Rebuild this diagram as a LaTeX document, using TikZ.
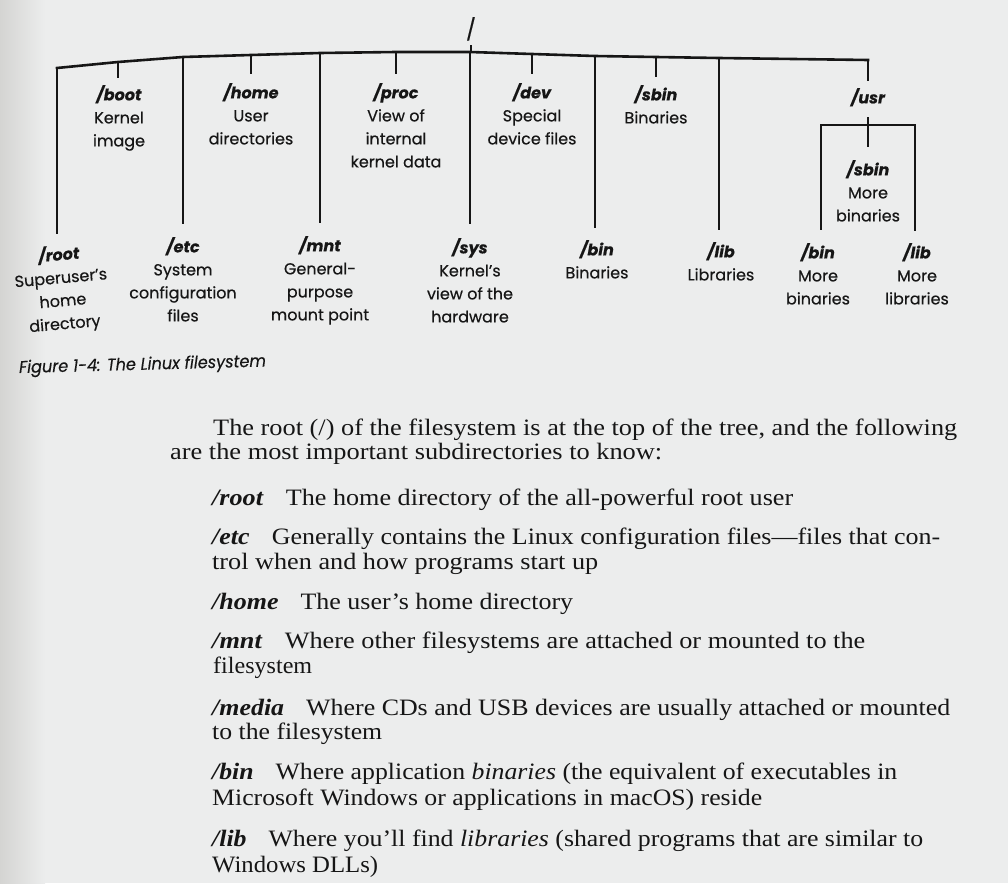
\documentclass[tikz,border=0pt]{standalone}
\usepackage{fontspec}
\usepackage{graphicx}
\setmainfont{Liberation Serif}
\newfontfamily\geo{Poppins}[FakeBold=0.4]
\usetikzlibrary{calc}

\definecolor{paper}{RGB}{236,237,237}
\definecolor{paperdark}{RGB}{212,212,210}
\definecolor{ink}{RGB}{22,22,22}

% directory names in the tree: bold oblique
\newcommand\dname[1]{{\bfseries\itshape #1}}
% one line of body text stretched to a given width
\newcommand\bodyline[5]{\node[body] (#1) at (#2,#3) {\resizebox{#4pt}{\height}{#5}};}

\tikzset{
  branch/.style={draw=ink, line width=2.6pt, line cap=rect},
  lbl/.style={inner sep=0pt, align=center, anchor=north, text=ink,
              font=\geo\fontsize{16pt}{23pt}\selectfont},
  rootlbl/.style={inner sep=0pt, anchor=north, text=ink,
              font=\geo\fontsize{21pt}{24pt}\selectfont},
  caption/.style={inner sep=0pt, anchor=base west, text=ink,
              font=\geo\itshape\fontsize{17pt}{20pt}\selectfont},
  body/.style={inner sep=0pt, anchor=base west, text=ink,
              font=\fontsize{23.5pt}{27pt}\selectfont},
}

\begin{document}
\begin{tikzpicture}[x=1pt,y=-1pt]
  % page
  \fill[paper] (0,0) rectangle (1008,883);
  \shade[left color=paperdark, right color=paper] (0,0) rectangle (45,883);
  \useasboundingbox (0,0) rectangle (1008,883);

  % ---- tree labels ----
  \node[rootlbl] (root) at (471,17) {/};

  \node[lbl] (boot) at (119,85) {\dname{/boot}\\Kernel\\image};
  \node[lbl] (home) at (251,83) {\dname{/home}\\User\\directories};
  \node[lbl] (proc) at (396,83) {\dname{/proc}\\View of\\internal\\kernel data};
  \node[lbl] (dev)  at (532,83) {\dname{/dev}\\Special\\device files};
  \node[lbl] (sbin) at (656,85) {\dname{/sbin}\\Binaries};
  \node[lbl] (usr)  at (868,88) {\dname{/usr}};
  \node[lbl] (usbin) at (868,160) {\dname{/sbin}\\More\\binaries};

  \node[lbl, rotate=5] (rootdir) at (58,245) {\dname{/root}\\Superuser’s\\home\\directory};
  \node[lbl] (etc)  at (183,237) {\dname{/etc}\\System\\configuration\\files};
  \node[lbl] (mnt)  at (320,236) {\dname{/mnt}\\General-\\purpose\\mount point};
  \node[lbl] (sys)  at (470,238) {\dname{/sys}\\Kernel’s\\view of the\\hardware};
  \node[lbl] (bin)  at (597,240) {\dname{/bin}\\Binaries};
  \node[lbl] (lib)  at (721,242) {\dname{/lib}\\Libraries};
  \node[lbl] (ubin) at (818,243) {\dname{/bin}\\More\\binaries};
  \node[lbl] (ulib) at (917,243) {\dname{/lib}\\More\\libraries};

  % ---- the main bar, slightly bowed ----
  \coordinate (bL)    at (57,68);
  \coordinate (bBoot) at (118,62);
  \coordinate (bEtc)  at (183,57);
  \coordinate (bHome) at (251,55);
  \coordinate (bMnt)  at (320,53);
  \coordinate (bProc) at (396,52);
  \coordinate (bSys)  at (470,52);
  \coordinate (bDev)  at (532,54);
  \coordinate (bBin)  at (595,56);
  \coordinate (bSbin) at (656,57);
  \coordinate (bLib)  at (719,58);
  \coordinate (bR)    at (868,60);

  \draw[branch, line join=round] (bL) -- (bBoot) -- (bEtc) -- (bHome) -- (bMnt)
    -- (bProc) -- (bSys) -- (bDev) -- (bBin) -- (bSbin) -- (bLib) -- (bR);

  % root to bar
  \draw[branch, shorten <=6pt] (root.south) -- (root.south |- bSys);

  % short drops
  \draw[branch, shorten >=8pt]  (bBoot) -- (bBoot |- boot.north);
  \draw[branch, shorten >=10pt] (bHome) -- (bHome |- home.north);
  \draw[branch, shorten >=10pt] (bProc) -- (bProc |- proc.north);
  \draw[branch, shorten >=10pt] (bDev)  -- (bDev  |- dev.north);
  \draw[branch, shorten >=9pt]  (bSbin) -- (bSbin |- sbin.north);
  \draw[branch, shorten >=8pt]  (bR)    -- (bR    |- usr.north);

  % long drops
  \draw[branch, shorten >=12pt] (bL)   -- (bL   |- rootdir.north);
  \draw[branch, shorten >=14pt] (bEtc) -- (bEtc |- etc.north);
  \draw[branch, shorten >=14pt] (bMnt) -- (bMnt |- mnt.north);
  \draw[branch, shorten >=15pt] (bSys) -- (bSys |- sys.north);
  \draw[branch, shorten >=13pt] (bBin) -- (bBin |- bin.north);
  \draw[branch, shorten >=13pt] (bLib) -- (bLib |- lib.north);

  % /usr subtree
  \coordinate (uL) at (821,125);
  \coordinate (uR) at (915,125);
  \draw[branch] (uL) -- (uR);
  \draw[branch, shorten <=12pt, shorten >=14pt] (usr.south) -- (usr.south |- usbin.north);
  \draw[branch, shorten >=14pt] (uL) -- (uL |- ubin.north);
  \draw[branch, shorten >=13pt] (uR) -- (uR |- ulib.north);

  % caption
  \node[caption, rotate=1.5] (cap) at (19,373)
    {\resizebox{247pt}{\height}{Figure 1-4: The Linux filesystem}};

  % ---- body text ----
  \bodyline{t1}{213}{435}{744}{The root (/) of the filesystem is at the top of the tree, and the following}
  \bodyline{t2}{170}{459}{492}{are the most important subdirectories to know:}
  \bodyline{t3}{212}{505}{581}{\textbf{\textit{/root}}\hspace{20pt}The home directory of the all-powerful root user}
  \bodyline{t4}{212}{544}{728}{\textbf{\textit{/etc}}\hspace{20pt}Generally contains the Linux configuration files—files that con-}
  \bodyline{t5}{212}{569}{386}{trol when and how programs start up}
  \bodyline{t6}{212}{609}{361}{\textbf{\textit{/home}}\hspace{20pt}The user’s home directory}
  \bodyline{t7}{212}{648}{653}{\textbf{\textit{/mnt}}\hspace{20pt}Where other filesystems are attached or mounted to the}
  \bodyline{t8}{213}{673}{99}{filesystem}
  \bodyline{t9}{212}{715}{738}{\textbf{\textit{/media}}\hspace{20pt}Where CDs and USB devices are usually attached or mounted}
  \bodyline{t10}{212}{739}{170}{to the filesystem}
  \bodyline{t11}{212}{779}{685}{\textbf{\textit{/bin}}\hspace{20pt}Where application \textit{binaries} (the equivalent of executables in}
  \bodyline{t12}{212}{805}{550}{Microsoft Windows or applications in macOS) reside}
  \bodyline{t13}{212}{846}{711}{\textbf{\textit{/lib}}\hspace{20pt}Where you’ll find \textit{libraries} (shared programs that are similar to}
  \bodyline{t14}{212}{872}{166}{Windows DLLs)}
\end{tikzpicture}
\end{document}
